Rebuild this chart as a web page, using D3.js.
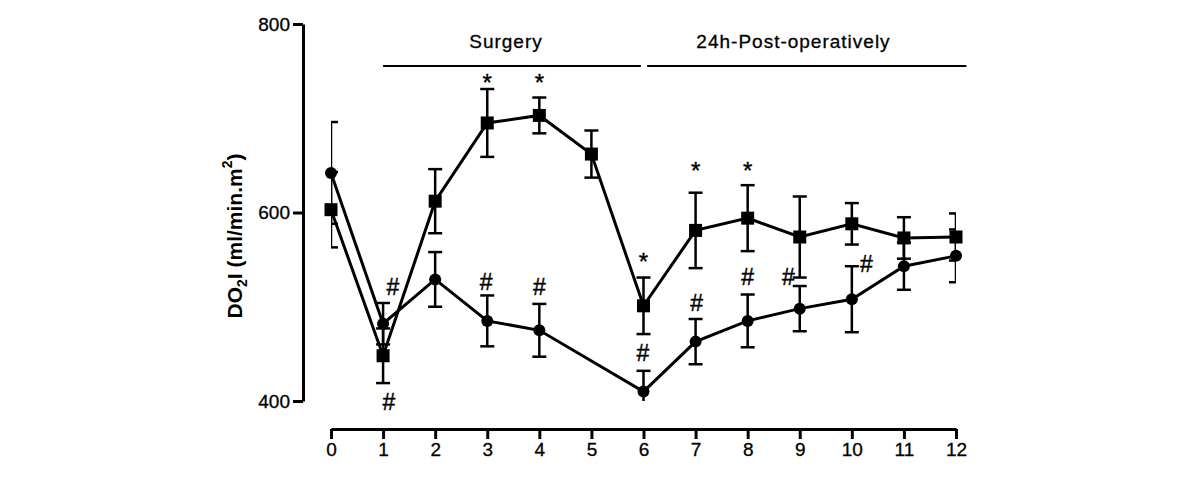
<!DOCTYPE html>
<html>
<head>
<meta charset="utf-8">
<script src="https://cdn.jsdelivr.net/npm/d3@7"></script>
<style>
  body { margin: 0; background: #fff; }
  svg { display: block; font-family: "Liberation Sans", Arial, sans-serif; }
</style>
</head>
<body>
<svg id="chart" width="1200" height="484"></svg>
<script>
// time points
const timePoints = [0, 1, 2, 3, 4, 5, 6, 7, 8, 9, 10, 11, 12];

// square series (mean, SEM)
const squareMean = [603, 448, 612, 695, 703, 662, 501, 581, 594, 574, 588, 573, 574];
const squareErr  = [40, 29, 34, 36, 19, 25, 30, 40, 35, 43, 22, 22, 25];

// circle series (no value at 5)
const circleMean = [642, 482, 529, 485, 475, null, 410, 463, 485, 498, 508, 543, 554];
const circleErr  = [54, 22, 29, 27, 28, null, 22, 24, 28, 24, 35, 25, 28];

const yTicks = [400, 600, 800];

// significance marks: [time, value at symbol centre]
const starMarks = [[3, 743], [4, 743], [6, 553], [7, 650], [8, 650]];
const hashMarks = [[1.19, 521], [1.11, 399], [2.98, 527], [4, 521], [5.99, 451], [7.02, 504], [8, 532], [8.78, 532], [10.28, 546]];

const periods = [
  { label: "Surgery", from: 1, to: 5.95, textAt: 3.36 },
  { label: "24h-Post-operatively", from: 6.07, to: 12.2, textAt: 8.88 }
];

const svg = d3.select("#chart");

const x = d3.scaleLinear().domain([0, 12]).range([331, 956]);
const y = d3.scaleLinear().domain([400, 800]).range([401, 24]);

// clip for error bars (plot area)
svg.append("clipPath").attr("id", "plot-clip")
  .append("rect")
  .attr("x", x(0)).attr("y", y(800))
  .attr("width", x(12) - x(0)).attr("height", y(400) - y(800));

// y axis
const yAxis = svg.append("g")
  .attr("transform", "translate(303,0)")
  .call(d3.axisLeft(y).tickValues(yTicks).tickSize(10).tickPadding(3).tickSizeOuter(0));
yAxis.select(".domain").attr("stroke-width", 3);
yAxis.selectAll(".tick line").attr("stroke-width", 3);
yAxis.selectAll("text").attr("font-size", 19).attr("fill", "#000")
  .attr("stroke", "#000").attr("stroke-width", 0.3);

// x axis
const xAxis = svg.append("g")
  .attr("transform", "translate(0,429)")
  .call(d3.axisBottom(x).tickValues(timePoints).tickFormat(d3.format("d")).tickSize(10).tickPadding(4).tickSizeOuter(0));
xAxis.select(".domain").attr("stroke-width", 3);
xAxis.selectAll(".tick line").attr("stroke-width", 3);
xAxis.selectAll("text").attr("font-size", 19).attr("fill", "#000")
  .attr("stroke", "#000").attr("stroke-width", 0.3);

// y label
const yLabel = svg.append("text")
  .attr("transform", "translate(242,236) rotate(-90)")
  .attr("text-anchor", "middle")
  .attr("font-size", 21)
  .attr("font-weight", "bold");
yLabel.append("tspan").text("DO");
yLabel.append("tspan").attr("font-size", 14).attr("dy", 5).text("2");
yLabel.append("tspan").attr("dy", -5).text("I (ml/min.m");
yLabel.append("tspan").attr("font-size", 14).attr("dy", -10).text("2");
yLabel.append("tspan").attr("dy", 10).text(")");

// period bars
periods.forEach(p => {
  svg.append("line")
    .attr("x1", x(p.from)).attr("x2", x(p.to))
    .attr("y1", 66).attr("y2", 66)
    .attr("stroke", "#000").attr("stroke-width", 2);
  svg.append("text")
    .attr("x", x(p.textAt)).attr("y", 48)
    .attr("text-anchor", "middle")
    .attr("font-size", 19)
    .attr("letter-spacing", 1)
    .attr("stroke", "#000").attr("stroke-width", 0.3)
    .text(p.label);
});

function drawSeries(means, errs, shape) {
  const pts = timePoints.map((t, i) => ({ t, m: means[i], e: errs[i] })).filter(d => d.m != null);

  const eb = svg.append("g").attr("clip-path", "url(#plot-clip)")
    .attr("stroke", "#000").attr("stroke-width", 2.5);
  pts.forEach(d => {
    eb.append("line")
      .attr("x1", x(d.t)).attr("x2", x(d.t))
      .attr("y1", y(d.m - d.e)).attr("y2", y(d.m + d.e));
    [d.m - d.e, d.m + d.e].forEach(v => {
      eb.append("line")
        .attr("x1", x(d.t) - 7).attr("x2", x(d.t) + 7)
        .attr("y1", y(v)).attr("y2", y(v));
    });
  });

  svg.append("path")
    .datum(pts)
    .attr("fill", "none").attr("stroke", "#000").attr("stroke-width", 3)
    .attr("d", d3.line().x(d => x(d.t)).y(d => y(d.m)));

  if (shape === "square") {
    svg.selectAll(null).data(pts).enter().append("rect")
      .attr("x", d => x(d.t) - 6.5).attr("y", d => y(d.m) - 6.5)
      .attr("width", 13).attr("height", 13).attr("fill", "#000");
  } else {
    svg.selectAll(null).data(pts).enter().append("circle")
      .attr("cx", d => x(d.t)).attr("cy", d => y(d.m))
      .attr("r", 6).attr("fill", "#000");
  }
}

drawSeries(circleMean, circleErr, "circle");
drawSeries(squareMean, squareErr, "square");

// significance symbols (baseline shifted so glyph centre sits on the value)
svg.selectAll(null).data(starMarks).enter().append("text")
  .attr("x", d => x(d[0])).attr("y", d => y(d[1]) + 0.57 * 24)
  .attr("text-anchor", "middle").attr("font-size", 24)
  .attr("stroke", "#000").attr("stroke-width", 0.4)
  .text("*");
svg.selectAll(null).data(hashMarks).enter().append("text")
  .attr("x", d => x(d[0])).attr("y", d => y(d[1]) + 0.36 * 23)
  .attr("text-anchor", "middle").attr("font-size", 23)
  .attr("stroke", "#000").attr("stroke-width", 0.4)
  .text("#");
</script>
</body>
</html>
